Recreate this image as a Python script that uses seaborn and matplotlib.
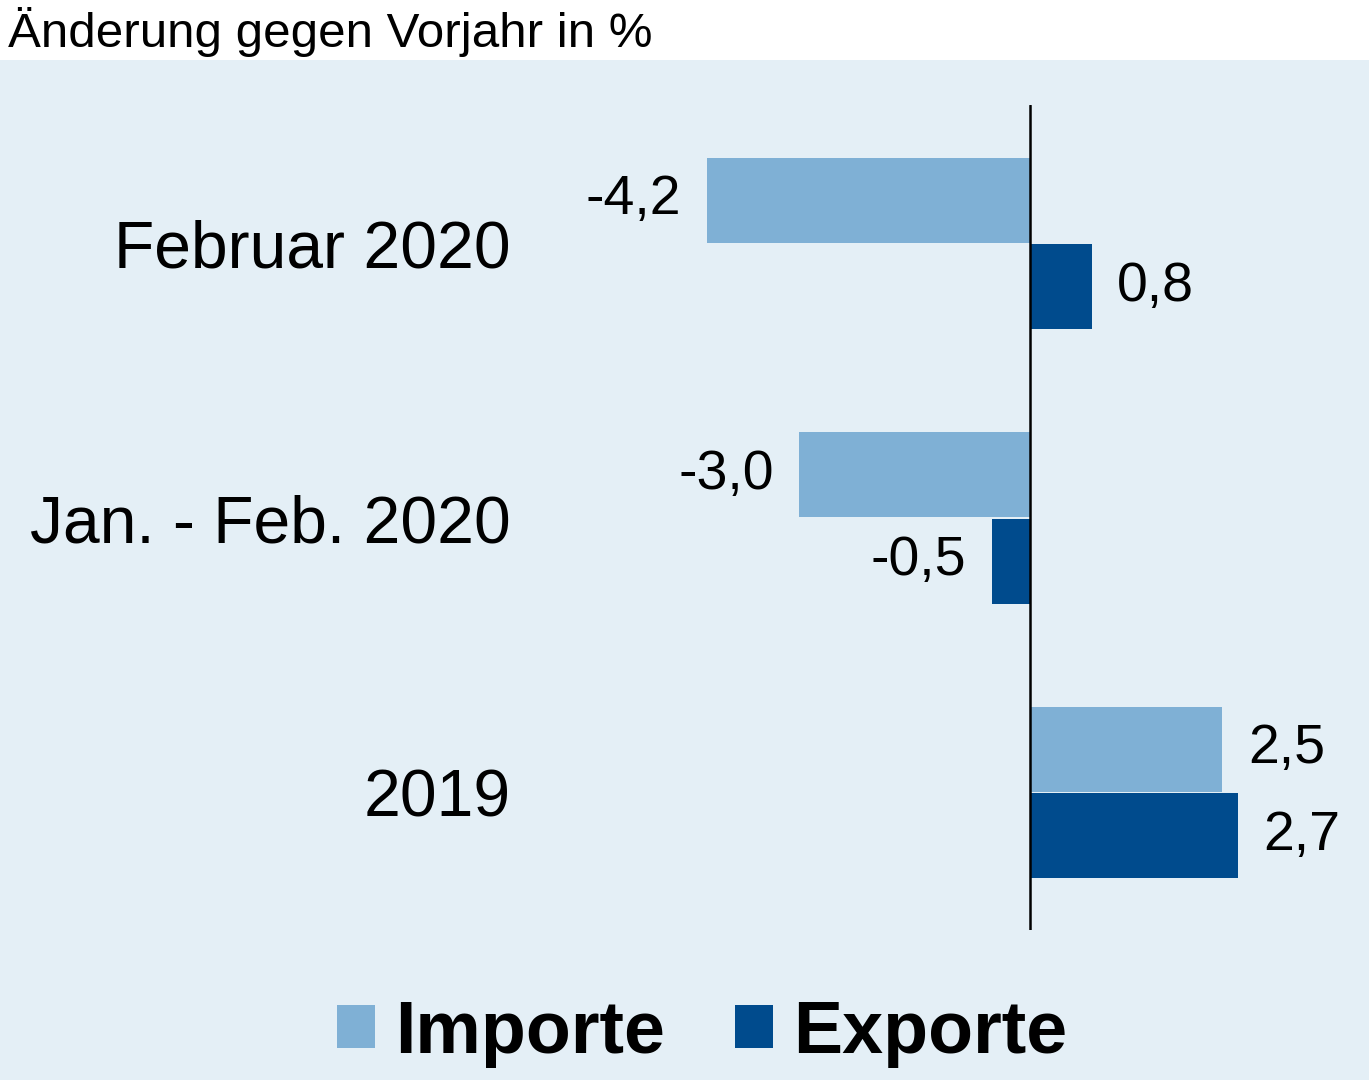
import pandas as pd
import matplotlib.pyplot as plt
import matplotlib.patches as mpatches
import seaborn as sns

sns.set_theme(style="white")
plt.rcParams["font.family"] = ["Liberation Sans", "DejaVu Sans"]
plt.rcParams["text.color"] = "black"
plt.rcParams["ytick.color"] = "black"

# Data
periods = ["Februar 2020", "Jan. - Feb. 2020", "2019"]
importe = [-4.2, -3.0, 2.5]
exporte = [0.8, -0.5, 2.7]
series = ["Importe", "Exporte"]
colors = ["#7fb0d5", "#004b8d"]

df = pd.DataFrame({
    "Zeitraum": periods * 2,
    "Wert": importe + exporte,
    "Reihe": [series[0]] * 3 + [series[1]] * 3,
})

fig = plt.figure(figsize=(13.69, 10.8), dpi=100)
fig.patch.set_facecolor("white")
# light blue panel below the title strip
fig.patches.append(mpatches.Rectangle((0, 0), 1, 1020 / 1080, transform=fig.transFigure,
                                      facecolor="#e4eff6", edgecolor="none", zorder=-5))

ax = fig.add_axes([520 / 1369, 150 / 1080, 849 / 1369, 825 / 1080])
ax.set_facecolor("none")
ax.set_zorder(2)

sns.barplot(data=df, y="Zeitraum", x="Wert", hue="Reihe", palette=colors,
            order=periods, hue_order=series, orient="h", saturation=1,
            width=0.63, gap=0.02, edgecolor="none", linewidth=0, ax=ax)

ax.get_legend().remove()
ax.axvline(0, color="black", linewidth=1.8, zorder=3)

ax.set_xlim(-6.632, 4.408)
ax.set_ylim(2.501, -0.505)
ax.set_xlabel("")
ax.set_ylabel("")
ax.set_xticks([])
ax.tick_params(axis="y", length=0, pad=7, labelsize=47.5, labelcolor="black")
for s in ax.spines.values():
    s.set_visible(False)

for cont, vals in zip(ax.containers, [importe, exporte]):
    labels = [f"{v:.1f}".replace(".", ",") for v in vals]
    ax.bar_label(cont, labels=labels, padding=18.5, fontsize=40, color="black")

fig.text(8 / 1369, 1 - 47 / 1080, "Änderung gegen Vorjahr in %",
         fontsize=35.5, va="baseline", ha="left", color="black")

handles = [mpatches.Patch(facecolor=c, edgecolor="none") for c in colors]
fig.legend(handles, series, loc="center", bbox_to_anchor=(0.513, 1 - 1033 / 1080),
           ncol=2, frameon=False, prop={"size": 53, "weight": "bold"},
           handlelength=0.52, handleheight=0.52, handletextpad=0.27,
           columnspacing=0.95, borderaxespad=0, labelcolor="black")

fig.savefig("out.png", dpi=100)
